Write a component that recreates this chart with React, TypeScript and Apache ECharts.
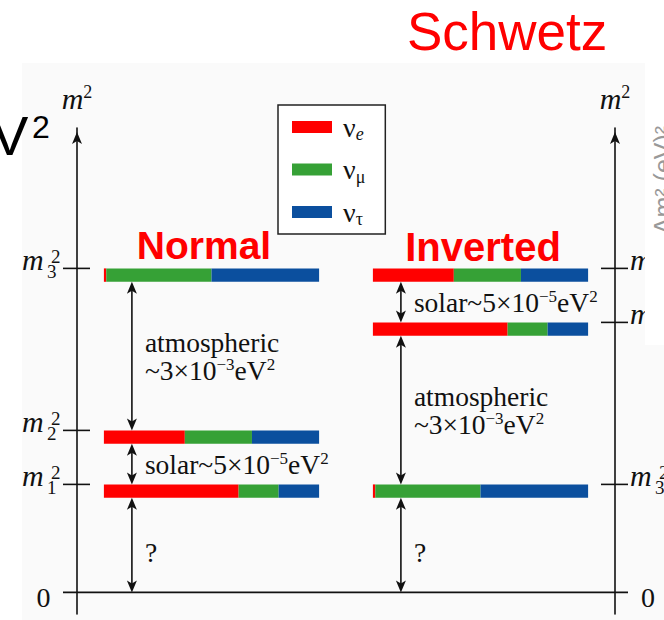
import React, { useEffect, useRef } from "react";
import * as echarts from "echarts";

// Mass orderings along the x axis
const hierarchies = ["Normal", "Inverted"];

// Flavour names (legend) and their colours
const flavourNames = ["νe", "νμ", "ντ"];
const flavourColors = ["#ff0000", "#36a136", "#0b4f9e"];

// Flavour content (νe, νμ, ντ) of the mass eigenstates m1, m2, m3
const massStates = ["1", "2", "3"];
const contentM1 = [0.626, 0.186, 0.188];
const contentM2 = [0.376, 0.312, 0.312];
const contentM3 = [0.011, 0.489, 0.5];

// Schematic m² of m1, m2, m3 in each ordering
const normalLevels = [1.0, 1.5, 3.0];
const invertedLevels = [2.5, 3.0, 1.0];

// Splitting annotations, from the gap above zero upwards
const normalGaps = ["?", "solar", "atmospheric"];
const invertedGaps = ["?", "atmospheric", "solar"];

// Value range of the m² axes
const yMin = -0.2;
const yMax = 4.3;

const SERIF = '"Liberation Serif", "Times New Roman", serif';
const SANS = '"Liberation Sans", Arial, sans-serif';
const INK = "#111";

const BAR_THICK = 13.4;
const BAR_FILL = 0.8;
const ARROW_INSET = 28;

const levelsByHierarchy = [normalLevels, invertedLevels];
const contentByState = [contentM1, contentM2, contentM3];
const gapsByHierarchy = [normalGaps, invertedGaps];

const gapText: Record<string, string> = {
  solar: "{t|solar~5×10}{p|−5}{t|eV}{p|2}",
  atmospheric: "{t|atmospheric}\n{t|~3×10}{p|−3}{t|eV}{p|2}",
  "?": "{t|?}",
};

const gapRich = {
  t: { fontFamily: SERIF, fontSize: 27.5, lineHeight: 28, fill: INK, color: INK },
  p: { fontFamily: SERIF, fontSize: 17, verticalAlign: "top", fill: INK, color: INK },
};

const legendText: Record<string, string> = {
  "νe": "{n|ν}{e|e}",
  "νμ": "{n|ν}{g|μ}",
  "ντ": "{n|ν}{g|τ}",
};

function flavourSeriesData(f: number) {
  const out: number[][] = [];
  levelsByHierarchy.forEach((levels, h) => {
    levels.forEach((lv, i) => {
      const c = contentByState[i];
      let start = 0;
      for (let k = 0; k < f; k++) start += c[k];
      out.push([h, lv, start, c[f]]);
    });
  });
  return out;
}

function gapSeriesData() {
  const out: number[][] = [];
  levelsByHierarchy.forEach((levels, h) => {
    const sorted = [0, ...levels].sort((a, b) => a - b);
    for (let k = 0; k < sorted.length - 1; k++) out.push([h, sorted[k], sorted[k + 1], k]);
  });
  return out;
}

function tickSeriesData() {
  const out: number[][] = [];
  levelsByHierarchy.forEach((levels, h) => {
    out.push([h, 0, -1]);
    levels.forEach((lv, i) => out.push([h, lv, i]));
  });
  return out;
}

function arrowHead(x: number, y: number, dir: number) {
  return {
    type: "polygon",
    shape: {
      points: [
        [x, y],
        [x - 5, y + dir * 12],
        [x, y + dir * 9],
        [x + 5, y + dir * 12],
      ],
    },
    style: { fill: INK },
  };
}

function renderBar(params: any, api: any) {
  const h = api.value(0);
  const level = api.value(1);
  const start = api.value(2);
  const frac = api.value(3);
  const c = api.coord([h, level]);
  const barW = api.size([1, 0])[0] * BAR_FILL;
  return {
    type: "rect",
    shape: { x: c[0] - barW / 2 + start * barW, y: c[1], width: frac * barW, height: BAR_THICK },
    style: { fill: api.visual("color") },
  };
}

function renderGap(params: any, api: any) {
  const h = api.value(0);
  const lo = api.value(1);
  const hi = api.value(2);
  const k = api.value(3);
  const barW = api.size([1, 0])[0] * BAR_FILL;
  const x = api.coord([h, 0])[0] - barW / 2 + ARROW_INSET;
  const yBottom = api.coord([h, lo])[1];
  const yTop = api.coord([h, hi])[1] + BAR_THICK;
  const key = gapsByHierarchy[h][k];
  const yMid = (yTop + yBottom) / 2 + (key === "?" ? 7 : 0);
  return {
    type: "group",
    children: [
      {
        type: "line",
        shape: { x1: x, y1: yTop + 3, x2: x, y2: yBottom - 3 },
        style: { stroke: INK, lineWidth: 1.6 },
      },
      arrowHead(x, yTop, 1),
      arrowHead(x, yBottom, -1),
      {
        type: "text",
        x: x + 13,
        y: yMid,
        style: {
          text: gapText[key],
          rich: gapRich,
          align: "left",
          verticalAlign: "middle",
          textAlign: "left",
          textVerticalAlign: "middle",
          fill: INK,
        },
      },
    ],
  };
}

function plainText(x: number, y: number, text: string, font: string) {
  return {
    type: "text",
    x,
    y,
    style: {
      text,
      font,
      fill: INK,
      align: "left",
      verticalAlign: "middle",
      textAlign: "left",
      textVerticalAlign: "middle",
    },
  };
}

// m with a state subscript and a square superscript, set TeX-like
function massLabel(x0: number, yb: number, idx: string) {
  return [
    plainText(x0, yb - 10, "m", `italic 30px ${SERIF}`),
    plainText(x0 + 25, yb + 1.6, idx, `19px ${SERIF}`),
    plainText(x0 + 29, yb - 13, "2", `19px ${SERIF}`),
  ];
}

function renderTick(params: any, api: any) {
  const side = api.value(0);
  const v = api.value(1);
  const si = api.value(2);
  const band = api.size([1, 0])[0];
  const c0 = api.coord([0, v]);
  const leftX = c0[0] - band / 2;
  const rightX = leftX + 2 * band;
  const axisX = side === 0 ? leftX : rightX;
  const y = c0[1];
  const children: any[] = [];
  if (v === 0) {
    if (side === 0) {
      children.push({
        type: "line",
        shape: { x1: leftX - 14, y1: y, x2: rightX + 13, y2: y },
        style: { stroke: INK, lineWidth: 1.6 },
      });
    }
    children.push({
      type: "text",
      x: side === 0 ? axisX - 33.5 : axisX + 33,
      y: y + 5,
      style: {
        text: "0",
        font: `28px ${SERIF}`,
        fill: INK,
        align: "center",
        verticalAlign: "middle",
        textAlign: "center",
        textVerticalAlign: "middle",
      },
    });
  } else {
    children.push({
      type: "line",
      shape: { x1: axisX - 14, y1: y, x2: axisX + 13, y2: y },
      style: { stroke: INK, lineWidth: 1.6 },
    });
    const x0 = side === 0 ? axisX - 55 : axisX + 15;
    children.push(...massLabel(x0, y + 1.5, massStates[si]));
  }
  return { type: "group", children };
}

const axisName = "{m|m}{s|2}";
const axisNameStyle = {
  rich: {
    m: { fontFamily: SERIF, fontStyle: "italic", fontSize: 30, color: INK, lineHeight: 30 },
    s: { fontFamily: SERIF, fontSize: 18, color: INK, verticalAlign: "top" },
  },
};

const yAxisCommon = {
  type: "value",
  min: yMin,
  max: yMax,
  splitLine: { show: false },
  axisTick: { show: false },
  axisLabel: { show: false },
  name: axisName,
  nameLocation: "end",
  nameGap: 15,
  nameTextStyle: axisNameStyle,
  axisLine: {
    show: true,
    symbol: ["none", "arrow"],
    symbolSize: [7.5, 12],
    symbolOffset: [0, -4],
    lineStyle: { color: INK, width: 1.6 },
  },
};

const option: any = {
  animation: false,
  backgroundColor: "#ffffff",
  grid: { left: 77, right: 49, top: 128, bottom: 6 },
  xAxis: { type: "category", data: hierarchies, show: false },
  yAxis: [
    { ...yAxisCommon, position: "left" },
    { ...yAxisCommon, position: "right" },
  ],
  legend: {
    orient: "vertical",
    left: 278,
    top: 105,
    data: flavourNames,
    icon: "rect",
    itemWidth: 40,
    itemHeight: 12,
    itemGap: 12.5,
    padding: [8, 20, 6, 14],
    borderColor: "#222",
    borderWidth: 1.5,
    backgroundColor: "#ffffff",
    selectedMode: false,
    formatter: (name: string) => legendText[name],
    textStyle: {
      fontFamily: SERIF,
      fontSize: 28,
      color: INK,
      lineHeight: 28,
      padding: [0, 0, 0, 6],
      rich: {
        n: { fontFamily: SERIF, fontSize: 28, color: INK },
        e: { fontFamily: SERIF, fontStyle: "italic", fontSize: 18, color: INK, padding: [14, 0, 0, 0] },
        g: { fontFamily: SERIF, fontSize: 18, color: INK, padding: [14, 0, 0, 0] },
      },
    },
  },
  graphic: [
    { type: "rect", z: 0, shape: { x: 22, y: 63, width: 642, height: 557 }, style: { fill: "#fafafa" } },
    {
      type: "text",
      x: 407,
      y: 31,
      style: { text: "Schwetz", font: `53px ${SANS}`, fill: "#ff0000", align: "left", verticalAlign: "middle", textAlign: "left", textVerticalAlign: "middle" },
    },
    {
      type: "text",
      x: -9,
      y: 135.6,
      style: { text: "V", font: `56px ${SANS}`, fill: "#000", align: "left", verticalAlign: "middle", textAlign: "left", textVerticalAlign: "middle" },
    },
    {
      type: "text",
      x: 32,
      y: 127,
      style: { text: "2", font: `32px ${SANS}`, fill: "#000", align: "left", verticalAlign: "middle", textAlign: "left", textVerticalAlign: "middle" },
    },
    {
      type: "text",
      x: 204,
      y: 245,
      z: 10,
      style: { text: "Normal", font: `bold 39px ${SANS}`, fill: "#ff0000", align: "center", verticalAlign: "middle", textAlign: "center", textVerticalAlign: "middle" },
    },
    {
      type: "text",
      x: 483,
      y: 247,
      z: 10,
      style: { text: "Inverted", font: `bold 40px ${SANS}`, fill: "#ff0000", align: "center", verticalAlign: "middle", textAlign: "center", textVerticalAlign: "middle" },
    },
    { type: "rect", z: 100, shape: { x: 645, y: 62, width: 20, height: 283 }, style: { fill: "#ffffff" } },
    {
      type: "text",
      z: 101,
      x: 663,
      y: 180,
      rotation: Math.PI / 2,
      style: { text: "Δm² (eV)²", font: `25px ${SANS}`, fill: "#999999", align: "center", verticalAlign: "middle", textAlign: "center", textVerticalAlign: "middle" },
    },
  ],
  series: [
    ...flavourNames.map((name, f) => ({
      type: "custom",
      name,
      coordinateSystem: "cartesian2d",
      itemStyle: { color: flavourColors[f] },
      data: flavourSeriesData(f),
      encode: { x: 0, y: 1 },
      renderItem: renderBar,
      z: 3,
    })),
    {
      type: "custom",
      name: "splittings",
      coordinateSystem: "cartesian2d",
      data: gapSeriesData(),
      encode: { x: 0, y: 2 },
      renderItem: renderGap,
      z: 4,
    },
    {
      type: "custom",
      name: "levels",
      coordinateSystem: "cartesian2d",
      data: tickSeriesData(),
      encode: { x: 0, y: 1 },
      renderItem: renderTick,
      z: 4,
    },
  ],
};

export default function App() {
  const ref = useRef<HTMLDivElement>(null);
  useEffect(() => {
    const chart = echarts.init(ref.current!, null, { renderer: "svg" });
    chart.setOption(option);
    return () => chart.dispose();
  }, []);
  return (
    <div
      ref={ref}
      style={{ position: "fixed", left: 0, top: 0, width: 664, height: 620, background: "#fff" }}
    />
  );
}
